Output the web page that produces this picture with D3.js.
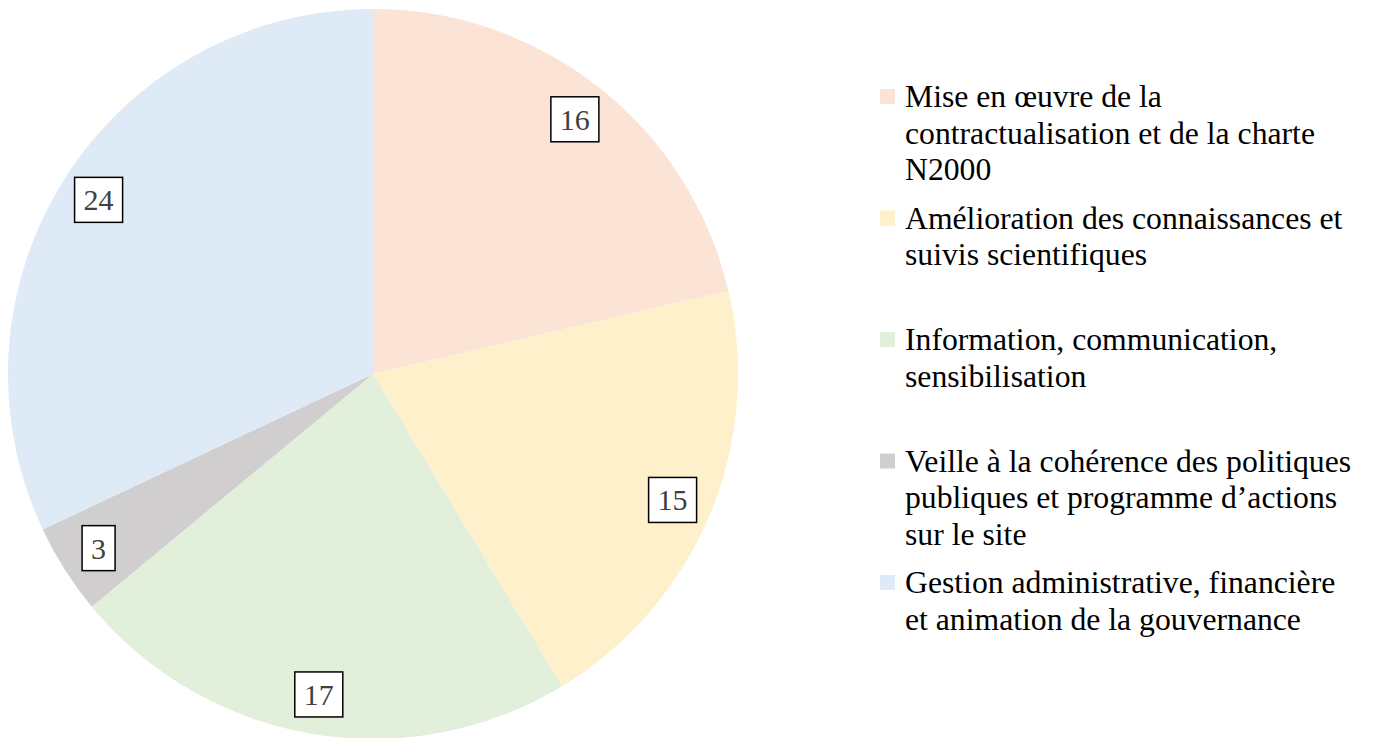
<!DOCTYPE html>
<html><head><meta charset="utf-8">
<script src="https://cdn.jsdelivr.net/npm/d3@7"></script>
<style>body{margin:0;background:#fff}svg{display:block}</style>
</head><body>
<svg id="chart" width="1376" height="738"></svg>
<script>
const categories = [
  ["Mise en œuvre de la", "contractualisation et de la charte", "N2000"],
  ["Amélioration des connaissances et", "suivis scientifiques"],
  ["Information, communication,", "sensibilisation"],
  ["Veille à la cohérence des politiques", "publiques et programme d’actions", "sur le site"],
  ["Gestion administrative, financière", "et animation de la gouvernance"]
];
const values = [16, 15, 17, 3, 24];
const colors = ["#FBE3D6", "#FFF0CC", "#E2EFDA", "#D0CECE", "#DEEAF6"];

const svg = d3.select("#chart");
const cx = 373, cy = 374, r = 365, labelR = 325;
const font = "'Liberation Serif','Times New Roman',serif";

const pie = d3.pie().sort(null).value(d => d)(values);
const arc = d3.arc().innerRadius(0).outerRadius(r);
const labelArc = d3.arc().innerRadius(labelR).outerRadius(labelR);

const g = svg.append("g").attr("transform", `translate(${cx},${cy})`);
g.selectAll("path").data(pie).join("path")
  .attr("d", arc).attr("fill", (d, i) => colors[i]);

const lg = g.selectAll("g.lbl").data(pie).join("g").attr("class", "lbl")
  .attr("transform", d => `translate(${labelArc.centroid(d)})`);
lg.each(function(d) {
  const sel = d3.select(this);
  const t = sel.append("text").text(d.data)
    .attr("text-anchor", "middle").attr("dy", "0.35em")
    .attr("font-family", font).attr("font-size", 30).attr("fill", "#404040");
  const bb = t.node().getBBox();
  const w = bb.width + 18, h = 45;
  sel.insert("rect", "text").attr("x", -w / 2).attr("y", -h / 2)
    .attr("width", w).attr("height", h).attr("fill", "#fff")
    .attr("stroke", "#000").attr("stroke-width", 1.5);
});

const legend = svg.append("g");
const lx = 880, ly0 = 96, step = 121.5, lineH = 36.5, fs = 31.7;
categories.forEach((lines, i) => {
  const y = ly0 + i * step;
  legend.append("rect").attr("x", lx).attr("y", y - 7).attr("width", 15).attr("height", 15)
    .attr("fill", colors[i]);
  const t = legend.append("text").attr("font-family", font).attr("font-size", fs)
    .attr("fill", "#000");
  lines.forEach((ln, j) => {
    t.append("tspan").attr("x", lx + 25).attr("y", y + j * lineH).attr("dy", "0.35em").text(ln);
  });
});
</script>
</body></html>
